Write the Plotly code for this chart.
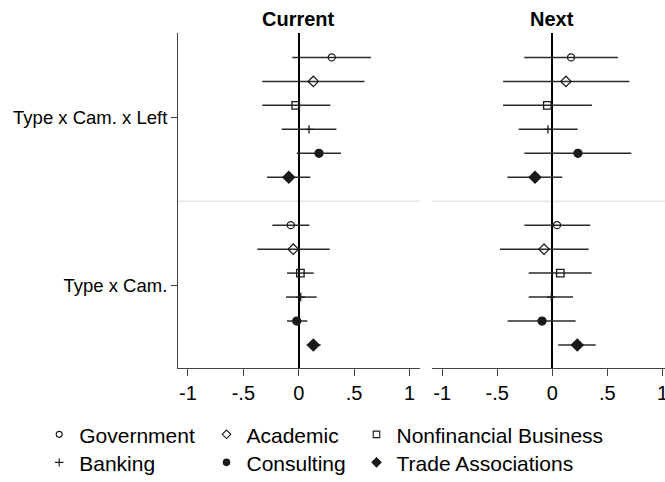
import plotly.graph_objects as go

# ---- data ----
series = ["Government", "Academic", "Nonfinancial Business", "Banking", "Consulting", "Trade Associations"]
terms = ["Type x Cam. x Left", "Type x Cam."]
panels = ["Current", "Next"]
x_ticks = [-1, -0.5, 0, 0.5, 1]
x_tick_labels = ["-1", "-.5", "0", ".5", "1"]

current_left_est = [0.298, 0.132, -0.027, 0.093, 0.183, -0.090]
current_left_lo = [-0.058, -0.329, -0.329, -0.154, -0.018, -0.286]
current_left_hi = [0.653, 0.593, 0.286, 0.340, 0.382, 0.105]

current_cam_est = [-0.072, -0.049, 0.015, 0.018, -0.018, 0.132]
current_cam_lo = [-0.238, -0.374, -0.106, -0.115, -0.106, 0.072]
current_cam_hi = [0.096, 0.280, 0.136, 0.162, 0.078, 0.198]

next_left_est = [0.170, 0.124, -0.045, -0.039, 0.233, -0.157]
next_left_lo = [-0.254, -0.447, -0.447, -0.305, -0.254, -0.408]
next_left_hi = [0.596, 0.699, 0.360, 0.230, 0.717, 0.091]

next_cam_est = [0.043, -0.075, 0.073, -0.009, -0.093, 0.227]
next_cam_lo = [-0.254, -0.475, -0.214, -0.214, -0.405, 0.054]
next_cam_hi = [0.345, 0.330, 0.357, 0.188, 0.212, 0.394]

panel_data = {
    "Current": [(current_left_est, current_left_lo, current_left_hi),
                (current_cam_est, current_cam_lo, current_cam_hi)],
    "Next": [(next_left_est, next_left_lo, next_left_hi),
             (next_cam_est, next_cam_lo, next_cam_hi)],
}

# ---- styles ----
FONT = "Liberation Sans, Arial, Helvetica, sans-serif"
INK = "#1a1a1a"
symbols = ["circle-open", "diamond-open", "square-open", "cross-thin-open", "circle", "diamond"]
sizes = [7, 8, 7.5, 6, 8, 9]
legend_sizes = [6, 6.5, 6.5, 6, 6.5, 7]
group_center = [7, 0]  # y positions of term groups

OFF = 0  # body margin removed via post_script
W, H = 665, 482
ml = 178 - OFF
mt = 33.3 - OFF
mb = H - (368.3 - OFF)
mr = 0
pw = W - ml - mr
ph = H - mt - mb
d1 = [0, (420 - 178) / pw]
d2 = [(432.3 - 178) / pw, 1]

# legend slots: (column left edge in page px, row centre in page px)
legend_cols = [39.2, 206.5, 356.5]
legend_rows = [435, 463]

fig = go.Figure()
for p, panel in enumerate(panels):
    xa = "x" if p == 0 else "x2"
    ya = "y" if p == 0 else "y2"
    for i, name in enumerate(series):
        xs, ys, ep, em = [], [], [], []
        for g, (est, lo, hi) in enumerate(panel_data[panel]):
            xs.append(est[i])
            ys.append(group_center[g] + 2.5 - i)
            ep.append(hi[i] - est[i])
            em.append(est[i] - lo[i])
        fig.add_trace(go.Scatter(
            x=xs, y=ys, mode="markers", name=name,
            xaxis=xa, yaxis=ya, showlegend=False, legendgroup=name,
            marker=dict(symbol=symbols[i], size=sizes[i], color=INK,
                        line=dict(color=INK, width=1.3)),
            error_x=dict(type="data", symmetric=False, array=ep, arrayminus=em,
                         color="#2a2a2a", thickness=1.5, width=0),
            cliponaxis=False,
        ))

# legend keys (no data, legend only) - one legend box per key
legend_layout = {}
for i, name in enumerate(series):
    lid = "legend" if i == 0 else f"legend{i + 1}"
    fig.add_trace(go.Scatter(
        x=[None], y=[None], mode="markers", name=name,
        legend=lid, showlegend=True, legendgroup=name,
        marker=dict(symbol=symbols[i], size=legend_sizes[i], color=INK,
                    line=dict(color=INK, width=1.1)),
    ))
    col, row = i % 3, i // 3
    legend_layout[lid] = dict(
        orientation="v", xanchor="left", yanchor="middle",
        x=(legend_cols[col] - OFF - ml) / pw,
        y=((H - mb) - (legend_rows[row] - OFF)) / ph,
        font=dict(family=FONT, size=21, color="#000000"),
        bgcolor="rgba(0,0,0,0)", itemclick=False, itemdoubleclick=False,
    )

xcommon = dict(
    tickmode="array", tickvals=x_ticks, ticktext=x_tick_labels,
    ticks="outside", ticklen=7, tickwidth=1, tickcolor="#444444",
    showline=True, linecolor="#444444", linewidth=1,
    showgrid=False, zeroline=True, zerolinecolor="#000000", zerolinewidth=2,
    tickfont=dict(family=FONT, size=20, color="#000000"), automargin=False,
    ticklabeloverflow="allow",
)
ycommon = dict(range=[-3.46, 10.52], showgrid=False, zeroline=False, automargin=False)

fig.update_layout(
    width=W, height=H,
    margin=dict(l=ml, r=mr, t=mt, b=mb, autoexpand=False),
    paper_bgcolor="white", plot_bgcolor="white",
    font=dict(family=FONT, color="#000000"),
    hovermode=False,
    xaxis=dict(domain=d1, range=[-1.09, 1.095], anchor="y", **xcommon),
    xaxis2=dict(domain=d2, range=[-1.089, 1.023], anchor="y2", **xcommon),
    yaxis=dict(anchor="x", tickmode="array", tickvals=group_center, ticktext=terms,
               ticks="outside", ticklen=6, tickcolor="#444444",
               showline=True, linecolor="#444444", linewidth=1,
               tickfont=dict(family=FONT, size=18.5, color="#000000"), **ycommon),
    yaxis2=dict(anchor="x2", showticklabels=False, ticks="", showline=False, **ycommon),
    shapes=[
        dict(type="line", xref="x domain", yref="y", x0=0, x1=1, y0=3.5, y1=3.5,
             line=dict(color="#e6e6e6", width=1.5), layer="below"),
        dict(type="line", xref="x2 domain", yref="y2", x0=0, x1=1, y0=3.5, y1=3.5,
             line=dict(color="#e6e6e6", width=1.5), layer="below"),
    ],
    annotations=[
        dict(text="<b>Current</b>", xref="x", x=0, yref="paper", y=1, yanchor="middle",
             yshift=14, showarrow=False, font=dict(family=FONT, size=20, color="#000000")),
        dict(text="<b>Next</b>", xref="x2", x=0, yref="paper", y=1, yanchor="middle",
             yshift=14, showarrow=False, font=dict(family=FONT, size=20, color="#000000")),
    ],
    **legend_layout,
)

fig.write_html("out.html",
               config={"displayModeBar": False, "staticPlot": True},
               post_script="document.body.style.margin='0';document.body.style.overflow='hidden';")
